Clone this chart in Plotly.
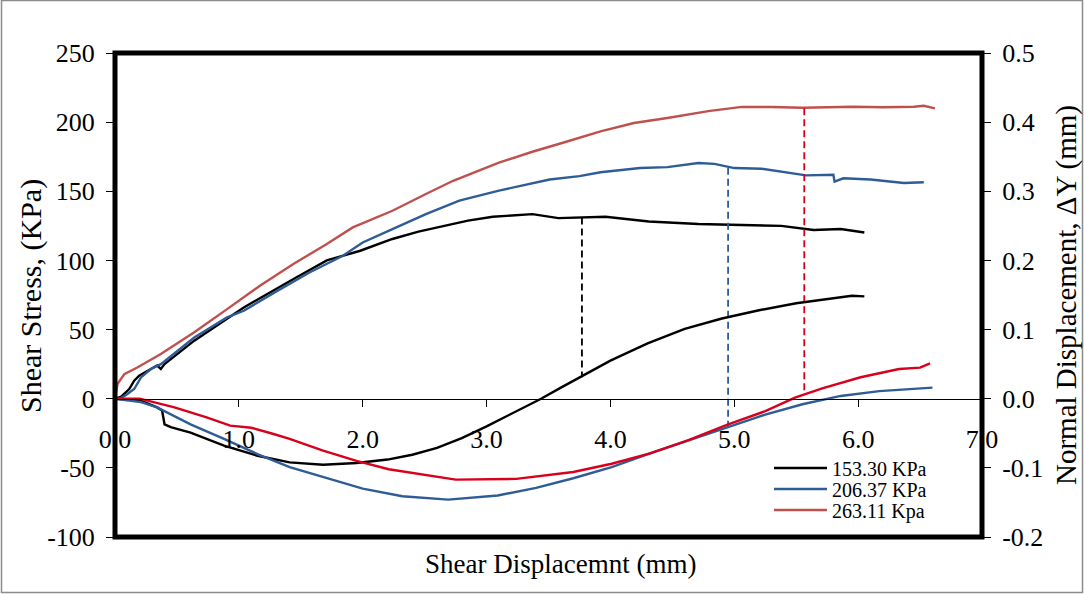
import plotly.graph_objects as go

# ---------------- data ----------------
SERIES_NAMES = ["153.30 KPa", "206.37 KPa", "263.11 Kpa"]

# Shear stress (KPa) vs shear displacement (mm)
x_s1 = [0, 0.05, 0.115, 0.155, 0.195, 0.26, 0.34, 0.37, 0.40, 0.64, 1.04, 1.47, 1.71, 1.98, 2.24,
        2.45, 2.65, 2.85, 3.05, 3.37, 3.58, 3.74, 3.96, 4.31, 4.71, 4.97, 5.38, 5.64, 5.86, 6.05]
s1 = [0, 1.5, 7, 13, 16.6, 20, 24, 21.5, 25, 42, 66, 88, 100, 107, 115.5,
      120.8, 125, 128.8, 131.6, 133.5, 130.6, 131, 131.6, 128.2, 126.3, 125.8, 125, 122, 122.7, 120.2]

x_s2 = [0, 0.05, 0.10, 0.155, 0.21, 0.29, 0.37, 0.64, 0.905, 1.04, 1.31, 1.57, 1.84, 2.0, 2.24,
        2.51, 2.78, 3.10, 3.51, 3.75, 3.92, 4.24, 4.46, 4.71, 4.84, 5.0, 5.22, 5.41, 5.58, 5.80,
        5.81, 5.88, 6.10, 6.37, 6.53]
s2 = [0, 0.5, 3.4, 7, 15.4, 21.5, 25, 44.3, 58.8, 63.6, 78, 91.3, 103.4, 113, 122.7,
      133.5, 143.2, 150.5, 158.5, 161, 163.8, 166.8, 167.5, 170.5, 169.8, 166.8, 166.3, 163.8, 161.5, 161.9,
      157, 159.4, 158.5, 156, 156.5]

x_s3 = [0, 0.02, 0.075, 0.18, 0.37, 0.64, 0.905, 1.17, 1.44, 1.71, 1.92, 2.24, 2.51, 2.73, 3.10,
        3.37, 3.65, 3.92, 4.19, 4.46, 4.79, 5.06, 5.30, 5.55, 5.96, 6.20, 6.45, 6.53, 6.62]
s3 = [0, 10.6, 17.8, 22.6, 32.3, 48, 64.8, 81.7, 97.4, 111.9, 123.9, 135.9, 148, 157.6, 170.7,
      178.6, 186, 193.3, 199.4, 203, 208, 211, 211, 210.4, 211.1, 210.8, 211.1, 211.8, 210]

# Normal displacement (mm) vs shear displacement (mm)
x_n1 = [0, 0.2, 0.34, 0.38, 0.40, 0.45, 0.61, 0.88, 1.15, 1.41, 1.68, 1.95, 2.2, 2.4, 2.6,
        2.8, 3.0, 3.2, 3.44, 3.6, 3.75, 4.0, 4.3, 4.6, 4.9, 5.2, 5.5, 5.8, 5.95, 6.05]
n1 = [0, -0.002, -0.0126, -0.017, -0.037, -0.041, -0.049, -0.068, -0.0825, -0.092, -0.0955, -0.093, -0.088, -0.081, -0.071,
      -0.057, -0.040, -0.022, 0, 0.016, 0.031, 0.055, 0.080, 0.101, 0.116, 0.128, 0.138, 0.146, 0.149, 0.148]

x_n2 = [0, 0.21, 0.34, 0.61, 0.88, 1.15, 1.41, 1.73, 2.0, 2.32, 2.69, 3.09, 3.40, 3.70, 4.01,
        4.32, 4.63, 4.94, 5.25, 5.55, 5.86, 6.17, 6.60]
n2 = [0, -0.005, -0.0126, -0.037, -0.058, -0.08, -0.099, -0.116, -0.130, -0.141, -0.146, -0.140, -0.129, -0.115, -0.099,
      -0.079, -0.060, -0.042, -0.023, -0.008, 0.004, 0.011, 0.016]

x_n3 = [0, 0.2, 0.48, 0.74, 0.93, 1.10, 1.28, 1.41, 1.68, 1.95, 2.21, 2.48, 2.75, 3.24, 3.70,
        4.01, 4.32, 4.63, 4.94, 5.25, 5.49, 5.71, 6.02, 6.33, 6.50, 6.58]
n3 = [0, 0, -0.0126, -0.027, -0.039, -0.042, -0.051, -0.058, -0.075, -0.090, -0.102, -0.109, -0.117, -0.116, -0.106,
      -0.094, -0.079, -0.060, -0.038, -0.018, 0.0015, 0.015, 0.031, 0.043, 0.045, 0.051]

# Peak markers (dashed verticals): displacement, peak stress, normal displacement at that point
peak_x = [3.77, 4.95, 5.565]
peak_stress = [131, 167, 210]
peak_normal = [0.031, -0.042, 0.008]

# Axis ticks
x_ticks = [0, 1, 2, 3, 4, 5, 6, 7]
x_ticktext = ["0.0", "1.0", "2.0", "3.0", "4.0", "5.0", "6.0", "7.0"]
y1_ticks = [-100, -50, 0, 50, 100, 150, 200, 250]
y1_ticktext = ["-100", "-50", "0", "50", "100", "150", "200", "250"]
y2_ticks = [-0.2, -0.1, 0.0, 0.1, 0.2, 0.3, 0.4, 0.5]
y2_ticktext = ["-0.2", "-0.1", "0.0", "0.1", "0.2", "0.3", "0.4", "0.5"]

Y1_RANGE = [-100, 250]
Y2_RANGE = [-0.2, 0.5]
X_RANGE = [0, 7]

# ---------------- styling ----------------
FONT = "Liberation Serif, Times New Roman, serif"
STRESS_COLORS = ["#000000", "#2E5C96", "#C0504D"]
NORMAL_COLORS = ["#000000", "#2E5C96", "#D9001B"]
DASH_COLORS = ["#000000", "#2E5C96", "#D9001B"]
LEGENDS = ["legend", "legend2", "legend3"]

fig = go.Figure()

for xs, ys, c, nm, lg in zip([x_s1, x_s2, x_s3], [s1, s2, s3], STRESS_COLORS, SERIES_NAMES, LEGENDS):
    fig.add_trace(go.Scatter(x=xs, y=ys, mode="lines", name=nm, legend=lg,
                             line=dict(color=c, width=2.4), yaxis="y"))

for xs, ys, c in zip([x_n1, x_n2, x_n3], [n1, n2, n3], NORMAL_COLORS):
    fig.add_trace(go.Scatter(x=xs, y=ys, mode="lines", showlegend=False,
                             line=dict(color=c, width=2.4), yaxis="y2"))

# convert normal displacement to the stress axis scale for the dashed drop lines
ratio = (Y1_RANGE[1] - Y1_RANGE[0]) / (Y2_RANGE[1] - Y2_RANGE[0])
for px, ps, pn, c in zip(peak_x, peak_stress, peak_normal, DASH_COLORS):
    fig.add_trace(go.Scatter(x=[px, px], y=[ps, Y1_RANGE[0] + (pn - Y2_RANGE[0]) * ratio],
                             mode="lines", showlegend=False,
                             line=dict(color=c, width=1.8, dash="7px,4px"), yaxis="y"))

zero_pos = (0 - Y1_RANGE[0]) / (Y1_RANGE[1] - Y1_RANGE[0])

L, R, T, B = 115, 102, 53, 57
W, H = 1084, 594
pw, ph = W - L - R, H - T - B

TICKFONT = dict(family=FONT, size=26, color="black")

legend_common = dict(xanchor="left", yanchor="middle", bgcolor="rgba(255,255,255,0)", borderwidth=0,
                     font=dict(family=FONT, size=20, color="black"), itemwidth=53)
legend_rows_y = [468, 489, 510]
legend_x = (769 - L) / pw

fig.update_layout(
    width=W, height=H,
    margin=dict(l=L, r=R, t=T, b=B),
    paper_bgcolor="white", plot_bgcolor="white",
    font=dict(family=FONT, color="black", size=24),
    showlegend=True,
    legend=dict(x=legend_x, y=(T + ph - legend_rows_y[0]) / ph, **legend_common),
    legend2=dict(x=legend_x, y=(T + ph - legend_rows_y[1]) / ph, **legend_common),
    legend3=dict(x=legend_x, y=(T + ph - legend_rows_y[2]) / ph, **legend_common),
    xaxis=dict(range=X_RANGE, tickvals=x_ticks, ticktext=x_ticktext, anchor="free", position=zero_pos,
               showline=True, linecolor="black", linewidth=1,
               ticks="outside", ticklen=7, tickcolor="black", tickwidth=1,
               showgrid=False, zeroline=False, ticklabelstandoff=10,
               tickfont=TICKFONT),
    yaxis=dict(range=Y1_RANGE, tickvals=y1_ticks, ticktext=y1_ticktext, showline=False,
               ticks="outside", ticklen=8, tickcolor="black", tickwidth=1,
               showgrid=False, zeroline=False, ticklabelstandoff=6,
               tickfont=TICKFONT),
    yaxis2=dict(range=Y2_RANGE, tickvals=y2_ticks, ticktext=y2_ticktext, overlaying="y", side="right",
                showline=False, ticks="outside", ticklen=8, tickcolor="black", tickwidth=1,
                showgrid=False, zeroline=False, ticklabelstandoff=6,
                tickfont=TICKFONT),
    shapes=[
        dict(type="rect", xref="paper", yref="paper", x0=0, x1=1, y0=0, y1=1,
             line=dict(color="black", width=5), layer="above"),
        dict(type="rect", xref="paper", yref="paper",
             x0=(1.5 - L) / pw, x1=(1082.5 - L) / pw,
             y0=(T + ph - 592.5) / ph, y1=(T + ph - 0.5) / ph,
             line=dict(color="#8c8c8c", width=1.5), layer="below"),
    ],
    annotations=[
        dict(text="Shear Displacemnt (mm)", xref="paper", yref="paper",
             x=(560 - L) / pw, y=(T + ph - 564) / ph, showarrow=False,
             xanchor="center", yanchor="middle",
             font=dict(family=FONT, size=27, color="black")),
        dict(text="Shear Stress, (KPa)", xref="paper", yref="paper",
             x=(31 - L) / pw, y=(T + ph - 296) / ph, showarrow=False, textangle=-90,
             xanchor="center", yanchor="middle",
             font=dict(family=FONT, size=30, color="black")),
        dict(text="Normal Displacement, \u0394Y (mm)", xref="paper", yref="paper",
             x=(1066 - L) / pw, y=(T + ph - 295) / ph, showarrow=False, textangle=-90,
             xanchor="center", yanchor="middle",
             font=dict(family=FONT, size=29, color="black")),
    ],
)

fig.write_html("out.html")
